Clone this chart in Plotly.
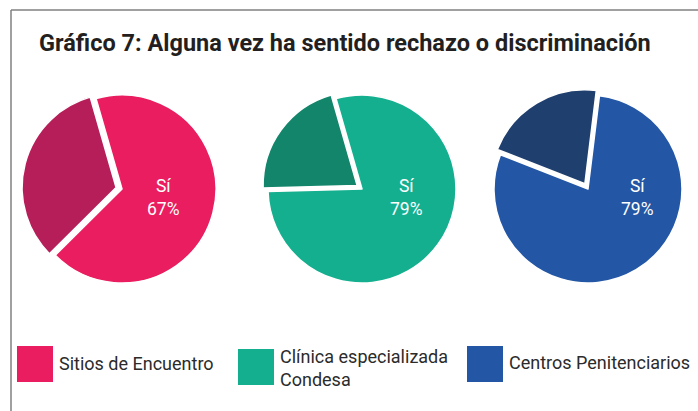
import plotly.graph_objects as go

W, H = 698, 411

title_text = "Gráfico 7: Alguna vez ha sentido rechazo o discriminación"
groups = ["Sitios de Encuentro", "Clínica especializada<br>Condesa", "Centros Penitenciarios"]
slice_labels = ["Sí", "No"]
si_values = [67, 79, 79]
no_values = [33, 21, 21]
si_colors = ["#E91D5F", "#14AF8F", "#2356A4"]
no_colors = ["#B61E59", "#12856B", "#1F3F6F"]

# layout (pixels)
rotations = [-16, -16, 7]
centers_x = [122, 362, 588]
center_y = 189
radius = 94
pull = 0.065
label_dx = [41, 45, 49]
legend_boxes = [(17, 346), (238, 349), (467, 346)]
legend_text_y = [363, 368, 362]
box = 36


def px(x):
    return x / W


def py(y):
    return 1 - y / H


fig = go.Figure()
half = radius * (1 + pull)
for i in range(3):
    fig.add_trace(go.Pie(
        labels=slice_labels,
        values=[si_values[i], no_values[i]],
        sort=False,
        direction="clockwise",
        rotation=rotations[i],
        pull=[0, pull],
        marker=dict(colors=[si_colors[i], no_colors[i]], line=dict(color="white", width=1.5)),
        textinfo="none",
        hoverinfo="label+percent",
        showlegend=False,
        domain=dict(x=[px(centers_x[i] - half), px(centers_x[i] + half)],
                    y=[py(center_y + half), py(center_y - half)]),
    ))

annotations = [dict(
    text="<b>" + title_text + "</b>", x=px(345), y=py(43), xref="paper", yref="paper",
    showarrow=False, xanchor="center", yanchor="middle",
    font=dict(family="Roboto", size=23.5, color="#231F20"))]

for i in range(3):
    annotations.append(dict(
        text=f"{slice_labels[0]}<br>{si_values[i]}%", x=px(centers_x[i] + label_dx[i]), y=py(197),
        xref="paper", yref="paper", showarrow=False, xanchor="center", yanchor="middle",
        font=dict(family="Roboto", size=17.5, color="white")))

shapes = [
    dict(type="line", xref="paper", yref="paper", x0=px(11), x1=1, y0=py(10), y1=py(10),
         line=dict(color="#808080", width=1.5)),
    dict(type="line", xref="paper", yref="paper", x0=px(11), x1=px(11), y0=0, y1=py(10),
         line=dict(color="#808080", width=1.5)),
]
for i in range(3):
    bx, by = legend_boxes[i]
    shapes.append(dict(type="rect", xref="paper", yref="paper",
                       x0=px(bx), x1=px(bx + box), y0=py(by + box), y1=py(by),
                       fillcolor=si_colors[i], line=dict(width=0)))
    annotations.append(dict(
        text=groups[i], x=px(bx + box + 4), y=py(legend_text_y[i]), xref="paper", yref="paper",
        showarrow=False, xanchor="left", yanchor="middle", align="left",
        font=dict(family="Roboto", size=18, color="#2B2B2B")))

fig.update_layout(
    width=W, height=H,
    margin=dict(l=0, r=0, t=0, b=0),
    paper_bgcolor="white", plot_bgcolor="white",
    annotations=annotations, shapes=shapes,
    showlegend=False,
)

fig.write_html("out.html", config={"displayModeBar": False},
               post_script="document.body.style.margin='0';")
